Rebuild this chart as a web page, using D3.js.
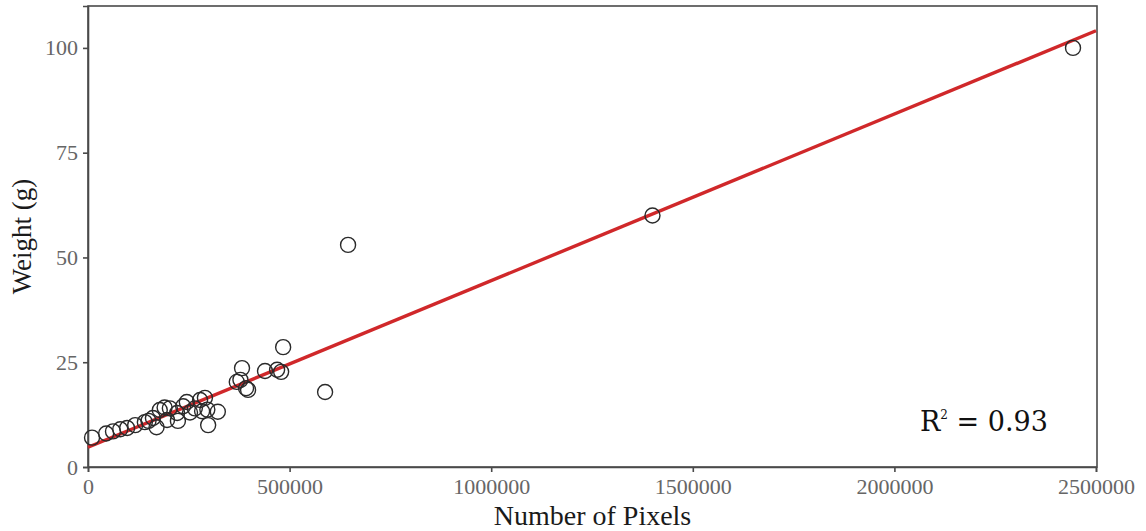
<!DOCTYPE html>
<html>
<head>
<meta charset="utf-8">
<script src="https://cdn.jsdelivr.net/npm/d3@7"></script>
<style>
  html, body { margin: 0; padding: 0; background: #fff; }
  svg { display: block; }
</style>
</head>
<body>
<svg id="chart" width="1146" height="531"></svg>
<script>
// Pixel count of each sample and its measured weight (g)
const pixels = [
  10000, 45000, 62000, 80000, 97000, 117000, 141000, 150000, 161000, 170000,
  178000, 190000, 196000, 203000, 221000, 223000, 236000, 245000, 253000, 265000,
  278000, 283000, 290000, 296000, 298000, 322000, 369000, 378000, 382000, 392000,
  397000, 439000, 469000, 479000, 484000, 588000, 645000, 1400000, 2443000
];
const weights = [
  7, 8, 8.5, 9, 9.3, 10, 10.7, 11, 11.7, 9.5,
  13.6, 14.2, 11.2, 14, 12.9, 11, 14.5, 15.5, 13, 14,
  16, 13.3, 16.5, 13.7, 10, 13.2, 20.3, 20.8, 23.6, 18.8,
  18.4, 22.9, 23.2, 22.7, 28.6, 17.9, 53, 60, 100
];

// Least-squares fit: weight = intercept + slope * pixels
const fitIntercept = 4.7;
const fitSlope = 3.976e-5;
const rSquared = "0.93";

const xTicks = [0, 500000, 1000000, 1500000, 2000000, 2500000];
const yTicks = [0, 25, 50, 75, 100];

const svg = d3.select("#chart");
const margin = { left: 88, right: 1097, top: 6, bottom: 467 };

const x = d3.scaleLinear().domain([0, 2500000]).range([margin.left, margin.right - 1]);
const y = d3.scaleLinear().domain([0, 110]).range([margin.bottom, margin.top]);

const serif = "'Liberation Serif', 'Times New Roman', serif";

// Frame
svg.append("rect")
  .attr("x", margin.left).attr("y", margin.top)
  .attr("width", margin.right - margin.left)
  .attr("height", margin.bottom - margin.top)
  .attr("fill", "none").attr("stroke", "#4a4a4a").attr("stroke-width", 1.6);

// Axes
const xAxis = svg.append("g")
  .attr("transform", `translate(0,${margin.bottom})`)
  .call(d3.axisBottom(x).tickValues(xTicks).tickFormat(d3.format("d")).tickSize(5).tickPadding(6));
const yAxis = svg.append("g")
  .attr("transform", `translate(${margin.left},0)`)
  .call(d3.axisLeft(y).tickValues(yTicks).tickFormat(d3.format("d")).tickSize(5).tickPadding(5));

[xAxis, yAxis].forEach(g => {
  g.select(".domain").attr("stroke", "#4a4a4a").attr("stroke-width", 1.6);
  g.selectAll(".tick line").attr("stroke", "#4a4a4a").attr("stroke-width", 1.6);
  g.selectAll(".tick text")
    .attr("fill", "#666")
    .style("font-family", serif)
    .style("font-size", "22px");
});

// Regression line
svg.append("line")
  .attr("x1", x(0)).attr("y1", y(fitIntercept))
  .attr("x2", x(2500000)).attr("y2", y(fitIntercept + fitSlope * 2500000))
  .attr("stroke", "#d0282a").attr("stroke-width", 3.4);

// Sample points
svg.append("g").selectAll("circle")
  .data(pixels.map((p, i) => [p, weights[i]]))
  .join("circle")
  .attr("cx", d => x(d[0]))
  .attr("cy", d => y(d[1]))
  .attr("r", 7.5)
  .attr("fill", "none")
  .attr("stroke", "#2a2a2a")
  .attr("stroke-width", 1.4);

// Axis titles
svg.append("text")
  .attr("x", (margin.left + margin.right) / 2)
  .attr("y", 525)
  .attr("text-anchor", "middle")
  .style("font-family", serif)
  .style("font-size", "28px")
  .attr("fill", "#1a1a1a")
  .text("Number of Pixels");

svg.append("text")
  .attr("transform", `translate(31,${(margin.top + margin.bottom) / 2}) rotate(-90)`)
  .attr("text-anchor", "middle")
  .style("font-family", serif)
  .style("font-size", "27px")
  .attr("fill", "#1a1a1a")
  .text("Weight (g)");

// Goodness of fit
const r2 = svg.append("text")
  .attr("x", 920).attr("y", 431)
  .style("font-family", "'DejaVu Serif', serif")
  .style("font-size", "27px")
  .attr("fill", "#111");
r2.append("tspan").text("R");
r2.append("tspan").attr("dy", -12).style("font-size", "12px").text("2");
r2.append("tspan").attr("dy", 12).text(` = ${rSquared}`);
</script>
</body>
</html>
